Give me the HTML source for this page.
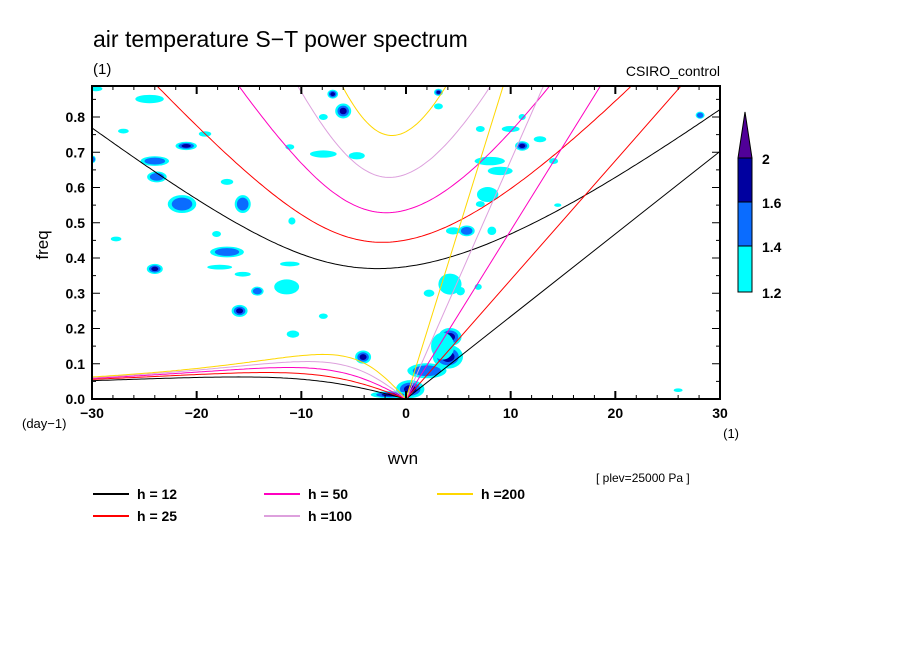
<!DOCTYPE html>
<html><head><meta charset="utf-8">
<style>
html,body{margin:0;padding:0;background:#fff;}
svg text{font-family:"Liberation Sans",sans-serif;fill:#000;}
</style></head>
<body>
<svg id="chart" width="904" height="654" viewBox="0 0 904 654" xmlns="http://www.w3.org/2000/svg">
<defs><clipPath id="clip"><rect x="92" y="86" width="628" height="313"/></clipPath></defs>
<text x="93" y="47" font-size="23">air temperature S−T power spectrum</text>
<text x="93" y="74" font-size="15">(1)</text>
<text x="720" y="76" font-size="14" text-anchor="end">CSIRO_control</text>
<rect x="92" y="86" width="628" height="313" fill="#fff"/>
<g id="blobs" clip-path="url(#clip)"></g>
<g id="curves" clip-path="url(#clip)"></g>
<g id="axes"></g>
<text transform="translate(48,245) rotate(-90)" font-size="17" text-anchor="middle">freq</text>
<text x="22" y="428" font-size="13">(day−1)</text>
<text x="739" y="438" font-size="13" text-anchor="end">(1)</text>
<text x="403" y="464" font-size="17" text-anchor="middle">wvn</text>
<text x="596" y="482" font-size="12">[ plev=25000 Pa ]</text>
<g id="legend"></g>
<g id="colorbar"></g>
</svg>
<script>
const NS="http://www.w3.org/2000/svg";
const depths=[12,25,50,100,200];
const depthColors=["#000000","#ff0000","#ff00c0","#dda0dd","#ffd700"];
const xTicks=[-30,-20,-10,0,10,20,30];
const yTicks=[0,0.1,0.2,0.3,0.4,0.5,0.6,0.7,0.8];
const yTickLabels=["0.0","0.1","0.2","0.3","0.4","0.5","0.6","0.7","0.8"];
const cbLevels=[1.2,1.4,1.6,2];
const cbColors=["#00ffff","#0a6cff","#0000a0","#500098"];
// blobs: wavenumber, frequency (cpd), half-width (wavenumber), half-height (cpd), peak level index
const blobK=[-24.5,-21,-24,-23.8,-21.4,-17.1,-24,-15.9,-11.4,-14.2,-4.1,-6,-7,-7.9,-4.7,-15.6,-27,-17.1,-18.1,-27.7,-10.8,-11.1,-17.8,-7.9,-19.2,-11.1,-29.6,-29.9,-15.6,-7.9,-10.9,
 0.4,-1.5,4,4.2,2,4.2,8,9,7.8,11.1,5.8,10,12.8,3.1,3.1,28.1,7.1,11.1,14.1,7.1,8.2,4.5,5.2,6.9,3.5,2.2,26,14.5];
const blobF=[0.851,0.718,0.675,0.63,0.553,0.417,0.369,0.25,0.318,0.306,0.119,0.817,0.865,0.695,0.69,0.553,0.76,0.616,0.468,0.454,0.184,0.383,0.374,0.235,0.752,0.715,0.88,0.68,0.354,0.80,0.505,
 0.028,0.012,0.12,0.176,0.08,0.326,0.675,0.647,0.58,0.718,0.477,0.766,0.737,0.87,0.83,0.805,0.766,0.80,0.675,0.553,0.477,0.477,0.306,0.318,0.15,0.3,0.025,0.55];
const blobRK=[1.6,1.2,1.6,1.1,1.6,1.9,0.9,0.9,1.4,0.7,0.9,0.9,0.6,1.5,0.9,0.9,0.6,0.7,0.5,0.6,0.7,1.1,1.4,0.5,0.7,0.5,0.7,0.3,0.9,0.5,0.4,
 1.6,2.2,1.7,1.3,2.2,1.3,1.7,1.4,1.2,0.8,0.9,1.0,0.7,0.5,0.5,0.5,0.5,0.4,0.5,0.5,0.5,0.8,0.5,0.4,1.3,0.6,0.5,0.4];
const blobRF=[0.014,0.014,0.016,0.018,0.03,0.018,0.017,0.02,0.025,0.015,0.022,0.025,0.015,0.012,0.012,0.03,0.008,0.01,0.01,0.008,0.012,0.008,0.008,0.009,0.009,0.009,0.008,0.012,0.008,0.01,0.012,
 0.03,0.012,0.04,0.03,0.025,0.035,0.014,0.014,0.025,0.016,0.018,0.01,0.01,0.012,0.01,0.012,0.01,0.01,0.01,0.01,0.014,0.012,0.014,0.01,0.045,0.012,0.006,0.006];
const blobLev=[0,2,1,1,1,1,2,2,0,1,2,2,2,0,0,1,0,0,0,0,0,0,0,0,0,0,0,1,0,0,0,
 3,3,2,2,1,0,0,0,0,2,1,0,0,2,0,1,0,0,0,0,0,0,0,0,0,0,0,0];

const X0=92,X1=720,Y0=399,YPER=352.5;
const xs=k=>X0+(k+30)/60*(X1-X0);
const ys=f=>Y0-f*YPER;
function el(tag,attrs,parent){const e=document.createElementNS(NS,tag);for(const a in attrs)e.setAttribute(a,attrs[a]);parent.appendChild(e);return e;}

// blobs
const bg=document.getElementById('blobs');
for(let i=0;i<blobK.length;i++){
  for(let l=0;l<=blobLev[i];l++){
    const s=0.85*(1-l*0.28);
    const e=el('ellipse',{cx:xs(blobK[i]),cy:ys(blobF[i]),rx:blobRK[i]*10.47*s,ry:blobRF[i]*YPER*s,fill:cbColors[l]},bg);
    
    
  }
}

// dispersion curves
const a=6.371e6,g=9.81,beta=2*7.292e-5/a,CPD=86400/(2*Math.PI);
const cg=document.getElementById('curves');
function igFreq(k,c){
  const km=k/a;let w=Math.sqrt(c*c*km*km+3*beta*c);
  for(let it=0;it<30;it++){const f=w*w*w-c*c*(km*km+3*beta/c)*w-beta*c*c*km;const d=3*w*w-c*c*(km*km+3*beta/c);w-=f/d;}
  return w*CPD;
}
function addPath(pts,color,name){
  const p=el('path',{d:'M'+pts.map(q=>q[0].toFixed(1)+','+q[1].toFixed(1)).join('L'),fill:'none',stroke:color,'stroke-width':1},cg);
  
  
}
depths.forEach((h,i)=>{
  const c=Math.sqrt(g*h);
  const ig=[],ros=[];
  for(let k=-30;k<=30.001;k+=0.25)ig.push([xs(k),ys(igFreq(k,c))]);
  for(let k=-30;k<=0.001;k+=0.25){const km=k/a;ros.push([xs(k),ys(-beta*km/(km*km+3*beta/c)*CPD)]);}
  addPath(ig,depthColors[i],'ig-curve-h'+h);
  addPath(ros,depthColors[i],'rossby-curve-h'+h);
  addPath([[xs(0),ys(0)],[xs(30),ys(c*30/a*CPD)]],depthColors[i],'kelvin-line-h'+h);
});

// axes
const ax=document.getElementById('axes');
el('rect',{x:X0,y:86,width:X1-X0,height:Y0-86,fill:'none',stroke:'#000','stroke-width':2},ax);
for(let k=-30;k<=30;k+=2){
  const major=k%10===0,L=major?8:4,x=xs(k);
  el('line',{x1:x,y1:Y0,x2:x,y2:Y0-L,stroke:'#000','stroke-width':major?2:1},ax);
  el('line',{x1:x,y1:86,x2:x,y2:86+L,stroke:'#000','stroke-width':major?2:1},ax);
}
for(let j=0;j<=17;j++){
  const f=j*0.05,major=j%2===0,L=major?8:4,y=ys(f);
  el('line',{x1:X0,y1:y,x2:X0+L,y2:y,stroke:'#000','stroke-width':1},ax);
  el('line',{x1:X1,y1:y,x2:X1-L,y2:y,stroke:'#000','stroke-width':1},ax);
}
xTicks.forEach(k=>{const t=el('text',{x:xs(k),y:418,'font-size':14,'font-weight':'bold','text-anchor':'middle'},ax);t.textContent=(k<0?'−':'')+Math.abs(k);
  });
yTicks.forEach((f,i)=>{const t=el('text',{x:85,y:ys(f)+5,'font-size':14,'font-weight':'bold','text-anchor':'end'},ax);t.textContent=yTickLabels[i];
  });

// legend
const lg=document.getElementById('legend');
const legX=[93,264,437],legY=[494,516];
depths.forEach((h,i)=>{
  const col=Math.floor(i/2),row=i%2,x=legX[col],y=legY[row];
  const ln=el('line',{x1:x,y1:y,x2:x+36,y2:y,stroke:depthColors[i],'stroke-width':2},lg);
  
  const t=el('text',{x:x+44,y:y+5,'font-size':14,'font-weight':'bold'},lg);
  t.textContent=h>=100?'h ='+h:'h = '+h;
  
});

// colorbar
const cb=document.getElementById('colorbar');
const cbY=[292,246,202,158];
for(let i=0;i<3;i++){const r=el('rect',{x:738,y:cbY[i+1],width:14,height:cbY[i]-cbY[i+1],fill:cbColors[i],stroke:'#000','stroke-width':1},cb);
  }
const tri=el('polygon',{points:'738,158 752,158 745,112',fill:cbColors[3],stroke:'#000','stroke-width':1},cb);

cbLevels.forEach((v,i)=>{const t=el('text',{x:762,y:cbY[i]+6,'font-size':14,'font-weight':'bold'},cb);t.textContent=String(v);
  });
</script>
</body></html>
